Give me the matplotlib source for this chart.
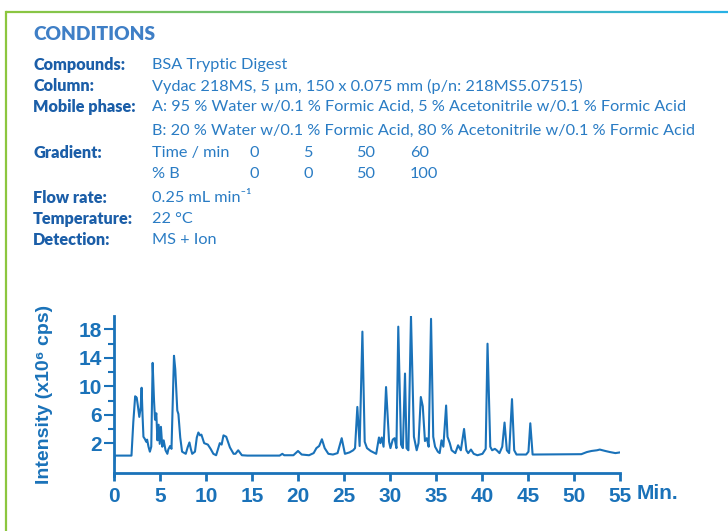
import numpy as np
import matplotlib
matplotlib.use("Agg")
import matplotlib.pyplot as plt
from matplotlib.collections import LineCollection

# ---------------- data ----------------
time_min = [0, 0.1, 1.9, 2.1, 2.3, 2.47, 2.6, 2.75, 2.9, 3.0, 3.1, 3.2, 3.35, 3.5, 3.6,
            3.75, 3.9, 4.05, 4.2, 4.35, 4.46, 4.6, 4.72, 4.85, 4.97, 5.1, 5.25, 5.4, 5.6,
            5.8, 5.9, 6.1, 6.25, 6.52, 6.66, 6.88, 7.0, 7.2, 7.4, 7.8, 8.0, 8.2, 8.35, 8.5,
            8.8, 9.0, 9.17, 9.35, 9.5, 9.8, 10.2, 10.5, 10.8, 11.1, 11.5, 11.7, 11.9, 12.2,
            12.6, 13.0, 13.2, 13.5, 13.9, 14.5, 18.0, 18.3, 18.5, 19.5, 20.0, 20.4, 21.2,
            21.7, 22.0, 22.3, 22.6, 22.9, 23.3, 23.8, 24.3, 24.75, 25.1, 25.6, 26.0, 26.2,
            26.45, 26.7, 27.0, 27.25, 27.5, 27.9, 28.2, 28.5, 28.8, 28.95, 29.1, 29.3, 29.57,
            29.9, 30.05, 30.3, 30.5, 30.7, 30.9, 31.2, 31.4, 31.63, 31.8, 32.0, 32.28, 32.6,
            32.9, 33.1, 33.35, 33.56, 33.8, 34.0, 34.2, 34.46, 34.7, 34.9, 35.2, 35.4, 35.6,
            35.8, 36.1, 36.25, 36.5, 36.7, 37.1, 37.4, 37.7, 38.05, 38.3, 38.5, 38.8, 39.1,
            39.5, 40.05, 40.4, 40.6, 40.9, 41.1, 41.4, 41.6, 41.9, 42.2, 42.45, 42.7, 42.95,
            43.26, 43.5, 43.75, 44.8, 45.05, 45.25, 45.5, 50.8, 51.4, 51.9, 52.5, 52.8, 53.4,
            53.9, 54.5, 55.0]
intensity = [-1.0, 0.25, 0.25, 5.0, 8.6, 8.4, 7.2, 5.7, 7.0, 9.8, 6.0, 2.9, 2.6, 2.2, 2.5,
             1.5, 0.8, 1.5, 13.3, 8.0, 5.3, 6.2, 2.4, 4.6, 1.9, 4.3, 1.5, 2.4, 1.0,
             0.5, 1.1, 1.6, 1.2, 14.3, 12.4, 6.6, 6.1, 2.8, 0.8, 0.5, 1.4, 2.1, 1.2, 0.5,
             0.8, 2.8, 3.5, 3.1, 3.2, 2.0, 1.8, 1.2, 0.5, 0.3, 2.0, 1.8, 3.1, 2.9,
             1.4, 0.5, 0.5, 1.0, 0.3, 0.25, 0.25, 0.5, 0.3, 0.3, 0.9, 0.4, 0.3,
             0.6, 1.3, 1.6, 2.55, 1.3, 0.5, 0.4, 0.6, 2.7, 0.5, 0.7, 1.0, 1.3,
             7.1, 1.6, 17.7, 2.2, 1.3, 0.9, 0.7, 0.5, 2.8, 2.0, 2.8, 1.5, 9.9,
             2.2, 1.3, 2.5, 2.7, 1.3, 18.4, 1.8, 1.3, 11.8, 1.3, 1.0, 19.9, 2.9,
             1.0, 2.0, 8.5, 7.2, 2.3, 2.7, 1.5, 19.5, 2.9, 1.5, 0.8, 0.6, 2.4,
             1.5, 7.3, 2.9, 2.0, 1.0, 0.6, 1.7, 1.0, 4.0, 1.0, 0.6, 1.1, 0.5,
             0.3, 0.5, 1.2, 16.0, 1.5, 1.0, 1.2, 1.0, 0.6, 1.5, 4.9, 1.0, 0.6,
             8.2, 1.0, 0.4, 0.4, 0.8, 4.8, 0.4, 0.45, 0.75, 0.9, 1.0, 1.1, 0.9,
             0.75, 0.6, 0.7]

x_ticks = [0, 5, 10, 15, 20, 25, 30, 35, 40, 45, 50, 55]
y_major = [2, 6, 10, 14, 18]
y_minor = [4, 8, 12, 16]

cond_labels = ["Compounds:", "Column:", "Mobile phase:", "", "Gradient:", "",
               "Flow rate:", "Temperature:", "Detection:"]
cond_values = ["BSA Tryptic Digest",
               "Vydac 218MS, 5 µm, 150 x 0.075 mm (p/n: 218MS5.07515)",
               "A: 95 % Water w/0.1 % Formic Acid, 5 % Acetonitrile w/0.1 % Formic Acid",
               "B: 20 % Water w/0.1 % Formic Acid, 80 % Acetonitrile w/0.1 % Formic Acid",
               "Time / min", "% B",
               "0.25 mL min⁻¹", "22 °C", "MS + Ion"]
grad_time = ["0", "5", "50", "60"]
grad_b = ["0", "0", "50", "100"]

# ---------------- figure ----------------
W, H = 728, 531
fig = plt.figure(figsize=(W / 100, H / 100), dpi=100)
fig.patch.set_facecolor("white")

def fx(x):
    return x / W

def fy(y):
    return 1 - y / H

# frame decoration
fig.add_artist(plt.Line2D([fx(6), fx(6)], [fy(12), fy(531)], color="#8cc63f", lw=1.6,
                          transform=fig.transFigure))
n = 200
xs = np.linspace(6, 728, n + 1)
segs = [[(fx(xs[i]), fy(12)), (fx(xs[i + 1]), fy(12))] for i in range(n)]
c0 = np.array(matplotlib.colors.to_rgb("#8cc63f"))
c1 = np.array(matplotlib.colors.to_rgb("#27b1e6"))
cols = [tuple(c0 + (c1 - c0) * (i / n)) for i in range(n)]
lc = LineCollection(segs, colors=cols, linewidths=1.6, transform=fig.transFigure)
fig.add_artist(lc)

FONT = ["Lato", "DejaVu Sans"]
head_col = "#3f7fc6"
lab_col = "#1b5ea8"
val_col = "#2a7cc4"
FS = 11.7

fig.text(fx(33), fy(34), "CONDITIONS", fontsize=13.8, fontweight="heavy", color=head_col,
         family=FONT, va="center", ha="left")

rows_y = [65, 86, 107, 131, 153, 174, 198, 219, 240]
for lab, val, yy in zip(cond_labels, cond_values, rows_y):
    if lab:
        fig.text(fx(33), fy(yy), lab, fontsize=FS, fontweight="heavy", color=lab_col,
                 family=FONT, va="center", ha="left")
    fig.text(fx(152), fy(yy), val, fontsize=FS, color=val_col, family=FONT,
             va="center", ha="left")

grad_x = [250, 303, 356, 410]
for gx, t, b in zip(grad_x, grad_time, grad_b):
    fig.text(fx(gx), fy(153), t, fontsize=FS, color=val_col, family=FONT,
             va="center", ha="left")
    fig.text(fx(gx), fy(174), b, fontsize=FS, color=val_col, family=FONT,
             va="center", ha="left")

# ---------------- chart ----------------
blue = "#1a72b9"
ax = fig.add_axes([fx(114), fy(473), fx(620) - fx(114), fy(316) - fy(473)])
ax.plot(time_min, intensity, color=blue, lw=1.5, solid_joinstyle="round")
ax.set_xlim(0, 55)
ax.set_ylim(-2.2, 19.9)
for s in ["top", "right"]:
    ax.spines[s].set_visible(False)
for s in ["left", "bottom"]:
    ax.spines[s].set_color(blue)
    ax.spines[s].set_linewidth(2.0)
ax.spines["left"].set_bounds(-2.6, 19.9)
ax.spines["left"].set_position(("data", 0))

AXFONT = ["Liberation Sans", "DejaVu Sans"]
ax.set_xticks(x_ticks)
ax.set_xticklabels([str(t) for t in x_ticks])
ax.set_yticks(y_major)
ax.set_yticks(y_minor, minor=True)
ax.set_yticklabels([str(v) for v in y_major])
ax.tick_params(axis="x", direction="out", length=6, width=2, color=blue, labelcolor=blue,
               labelsize=15, pad=4)
ax.tick_params(axis="y", which="major", direction="out", length=7, width=1.5, color=blue,
               labelcolor=blue, labelsize=15, pad=2)
ax.tick_params(axis="y", which="minor", direction="out", length=4, width=1.5, color=blue)
for lbl in ax.get_xticklabels() + ax.get_yticklabels():
    lbl.set_fontweight("bold")
    lbl.set_family(AXFONT)

ax.annotate("Min.", xy=(55, 0), xycoords=("data", "axes fraction"),
            xytext=(12, -8), textcoords="offset points", ha="left", va="top",
            fontsize=15, fontweight="bold", color=blue, family=AXFONT)

fig.text(fx(45), fy(394), "Intensity (x10⁶ cps)", rotation=90, fontsize=14,
         fontweight="bold", color=blue, family=AXFONT, va="center", ha="center")

fig.savefig("out.png", dpi=100, facecolor="white")
